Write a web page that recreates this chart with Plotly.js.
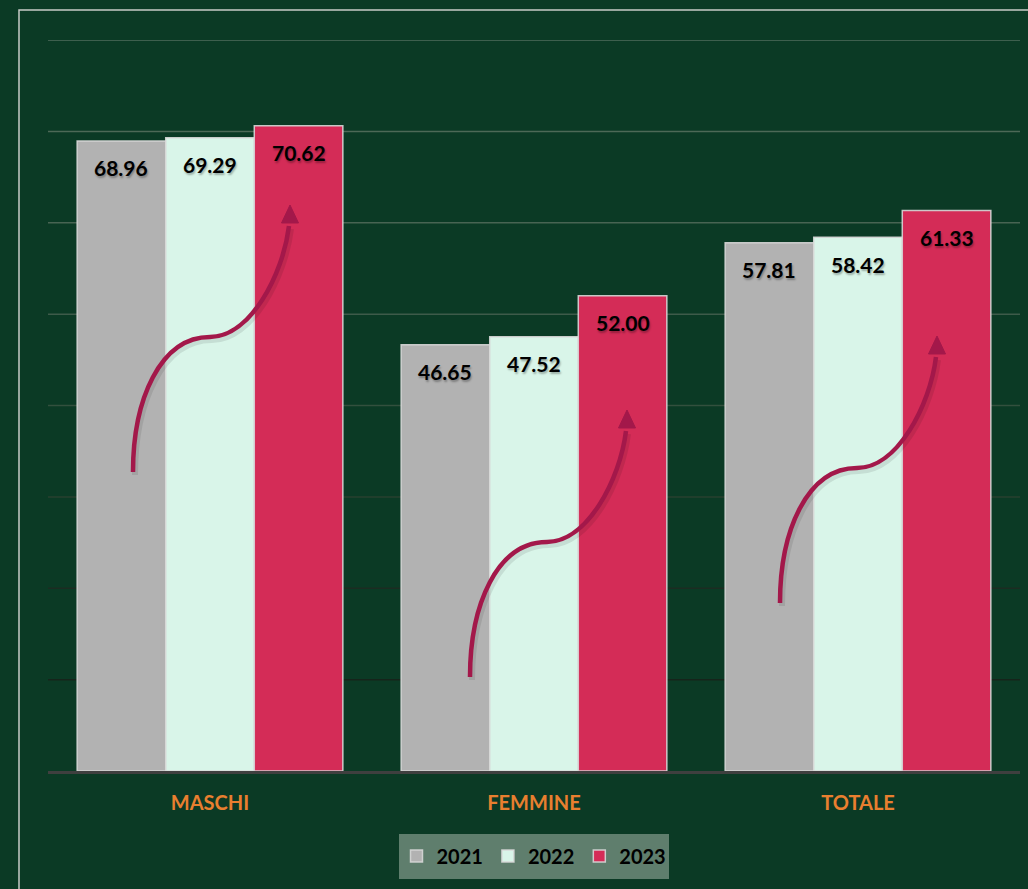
<!DOCTYPE html>
<html>
<head>
<meta charset="utf-8">
<script src="https://cdn.plot.ly/plotly-3.0.1.min.js"></script>
<style>
  html, body { margin: 0; padding: 0; background: #0b3a25; }
  #chart { width: 1028px; height: 889px; }
</style>
</head>
<body>
<div id="chart"></div>
<script>
// ---- data ----
const categories = ['MASCHI', 'FEMMINE', 'TOTALE'];
const years = ['2021', '2022', '2023'];
const values2021 = [68.96, 46.65, 57.81];
const values2022 = [69.29, 47.52, 58.42];
const values2023 = [70.62, 52.00, 61.33];
const gridValues = [10, 20, 30, 40, 50, 60, 70, 80];

// ---- styles ----
const barColors = ['#b2b2b2', '#d9f5e9', '#d42c57'];
const gridColors = ['#16241b', '#1c2c22', '#28402f', '#33503e', '#3e5b4a', '#486453', '#4d6957', '#516d5c'];
const bg = '#0b3a25';
const arrowColor = '#a3184a';
const fontFam = 'Lato, "Liberation Sans", Arial, sans-serif';

const series = [values2021, values2022, values2023];
const bargap = 0.18;
const barW = (1 - bargap) / 3;

const traces = series.map((vals, j) => ({
  type: 'bar',
  name: '<b>' + years[j] + '</b>',
  x: categories,
  y: vals,
  marker: { color: barColors[j], line: { color: 'rgba(215,215,215,0.9)', width: 1.5 } },
  hoverinfo: 'skip'
}));

const annotations = [];
series.forEach((vals, j) => {
  vals.forEach((v, i) => {
    annotations.push({
      x: i + (j - 1) * barW,
      y: v,
      xref: 'x', yref: 'y',
      text: '<b>' + v.toFixed(2) + '</b>',
      showarrow: false,
      yanchor: 'middle',
      yshift: -27,
      font: { family: fontFam, size: 21, color: '#000000', shadow: '1px 2px 2px rgba(0,0,0,0.3)' }
    });
  });
});

// plot area geometry (pixels) for decorative shapes
const L = 48, T = 40, W = 972, H = 731;
const px = x => (x - L) / W;
const py = y => (T + H - y) / H;

const shapes = [];
// gradient gridlines
gridValues.forEach((g, k) => {
  shapes.push({
    type: 'line', xref: 'paper', yref: 'y', x0: 0, x1: 1, y0: g, y1: g,
    line: { color: gridColors[k], width: 1.5 }, layer: 'below'
  });
});
// outer border (top & left visible)
shapes.push({
  type: 'rect', xref: 'paper', yref: 'paper',
  x0: px(19), x1: px(1040), y0: py(900), y1: py(10),
  line: { color: '#c9cbc8', width: 1.5 }, fillcolor: 'rgba(0,0,0,0)', layer: 'below'
});
// legend background
shapes.push({
  type: 'rect', xref: 'paper', yref: 'paper',
  x0: px(399), x1: px(669), y0: py(879), y1: py(834),
  line: { width: 0 }, fillcolor: '#5f7e6d', layer: 'below'
});

// decorative curved arrows (relative template, pixels)
function arrowPath(sx, sy, dx, dy) {
  const P = (x, y) => px(sx + x + dx) + ',' + py(sy + y + dy);
  return 'M' + P(0, 0) +
    ' C' + P(0, -72) + ' ' + P(27, -135) + ' ' + P(77, -135) +
    ' C' + P(117, -135) + ' ' + P(150, -197) + ' ' + P(156, -246);
}
function headPath(sx, sy) {
  const P = (x, y) => px(sx + x) + ',' + py(sy + y);
  return 'M' + P(148.5, -249) + ' L' + P(157, -267) + ' L' + P(165.5, -249) + ' Z';
}
const arrowStarts = [[133, 472], [470, 677], [780, 603]];
arrowStarts.forEach(([sx, sy]) => {
  shapes.push({ type: 'path', xref: 'paper', yref: 'paper', path: arrowPath(sx, sy, 2, 3),
    line: { color: 'rgba(0,0,0,0.09)', width: 6 }, layer: 'above' });
  shapes.push({ type: 'path', xref: 'paper', yref: 'paper', path: arrowPath(sx, sy, 0, 0),
    line: { color: arrowColor, width: 4.5 }, layer: 'above' });
  shapes.push({ type: 'path', xref: 'paper', yref: 'paper', path: headPath(sx, sy),
    line: { color: arrowColor, width: 1 }, fillcolor: arrowColor, layer: 'above' });
});

const layout = {
  width: 1028, height: 889,
  margin: { l: L, r: 1028 - L - W, t: T, b: 889 - T - H, pad: 0 },
  paper_bgcolor: bg, plot_bgcolor: bg,
  barmode: 'group', bargap: bargap, bargroupgap: 0,
  showlegend: true,
  legend: {
    orientation: 'h', x: 0.5, xanchor: 'center', y: py(856), yanchor: 'middle',
    bgcolor: 'rgba(0,0,0,0)', font: { family: fontFam, size: 20, color: '#000000', weight: 700 },
    itemclick: false, itemdoubleclick: false
  },
  xaxis: {
    type: 'category', showgrid: false, zeroline: false,
    showline: true, linecolor: '#3f3f3f', linewidth: 3,
    ticks: '', tickfont: { family: fontFam, size: 20, color: '#e97f2f', weight: 700 },
    ticklabelstandoff: 12, fixedrange: true
  },
  yaxis: {
    range: [0, 80], showgrid: false, zeroline: false, showticklabels: false,
    ticks: '', showline: false, fixedrange: true
  },
  annotations: annotations,
  shapes: shapes,
  font: { family: fontFam }
};

Plotly.newPlot('chart', traces, layout, { displayModeBar: false, staticPlot: true });
</script>
</body>
</html>
